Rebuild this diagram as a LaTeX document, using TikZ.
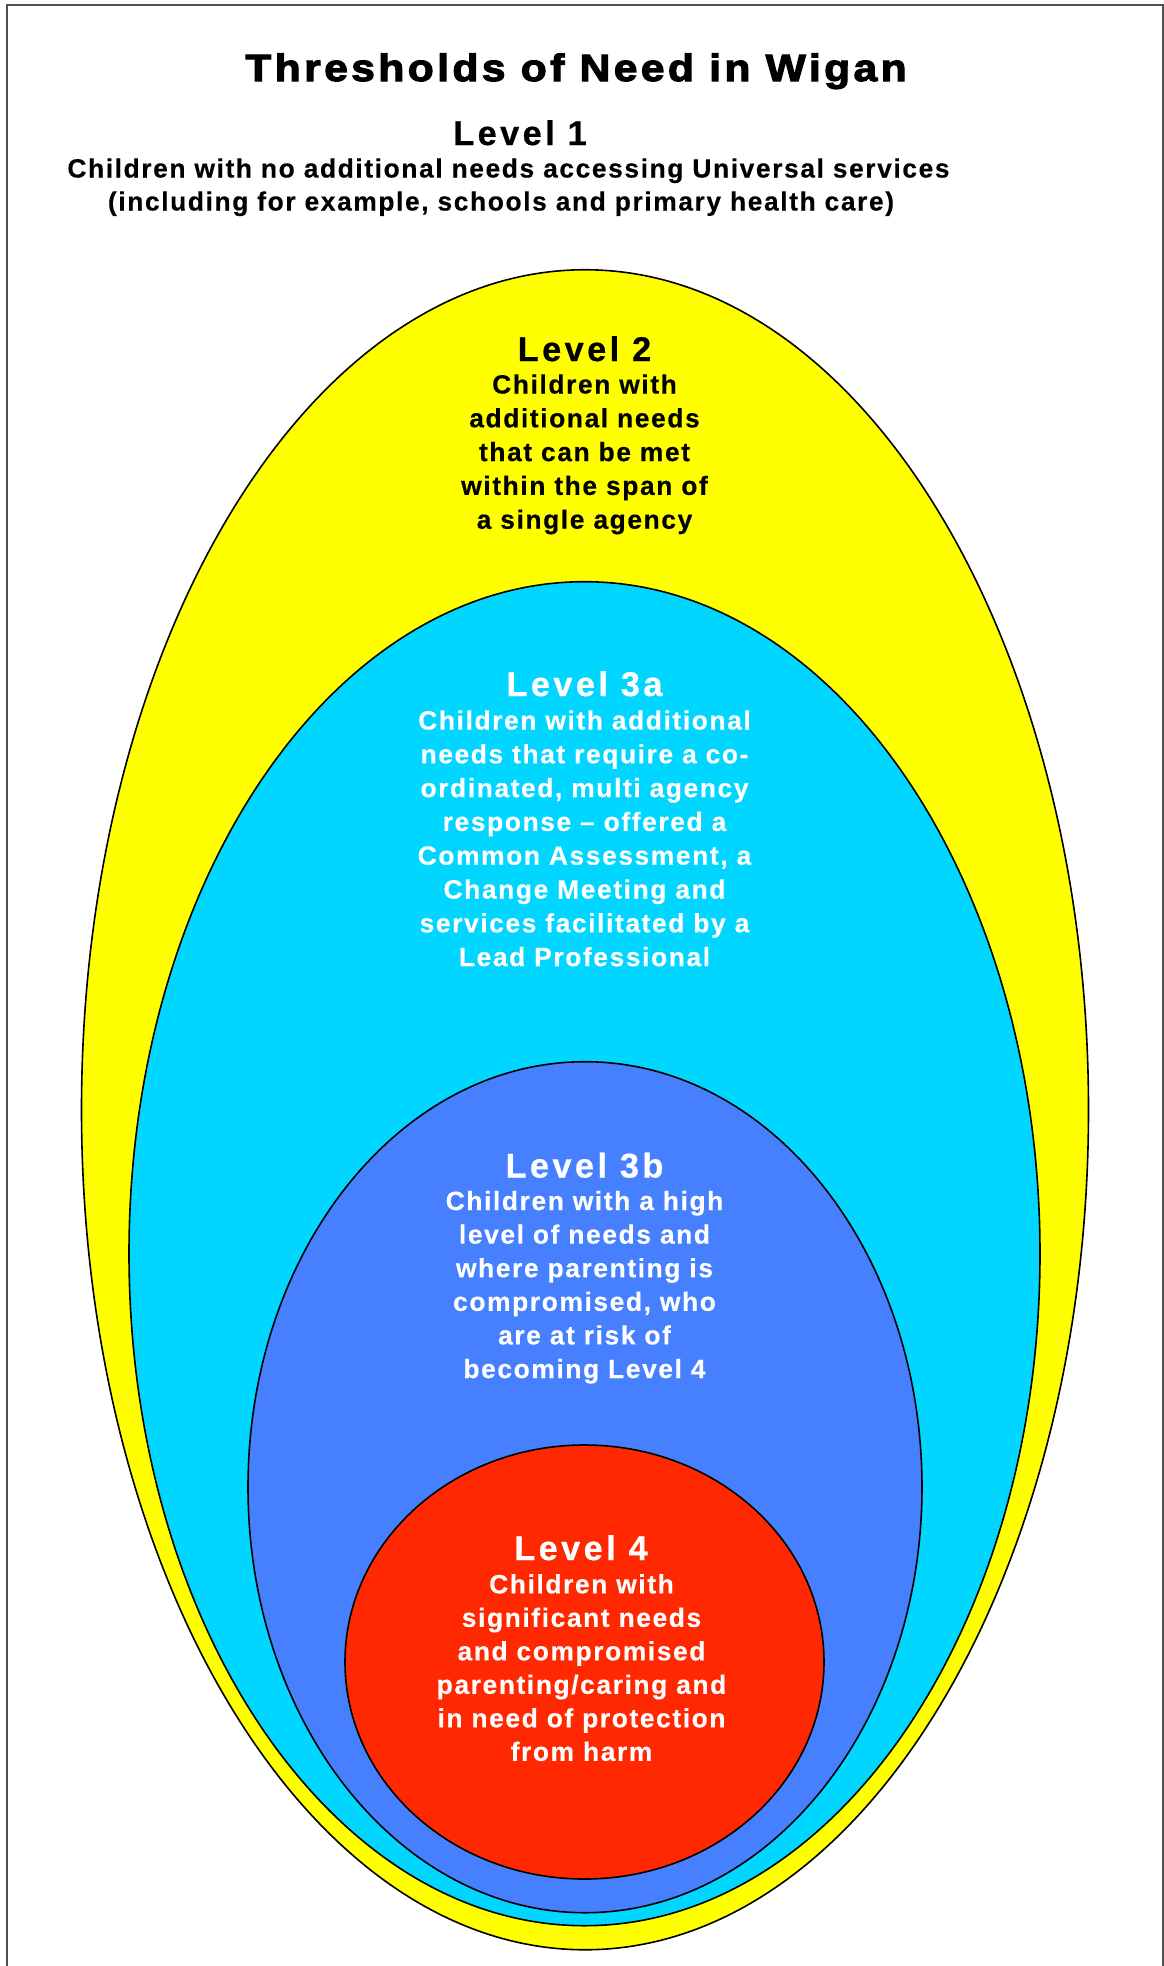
\documentclass[tikz,border=0pt]{standalone}
\usepackage{fontspec}
\setmainfont{Liberation Sans}
\newfontfamily\titlefont{Liberation Sans}[LetterSpace=9,BoldFeatures={FakeBold=3,FakeStretch=1.12}]
\newfontfamily\headfont{Liberation Sans}[LetterSpace=10,BoldFeatures={FakeBold=0.6}]
\newfontfamily\bodyfont{Liberation Sans}[LetterSpace=6,BoldFeatures={FakeBold=0.3}]

\definecolor{framegray}{RGB}{80,80,80}
\definecolor{lvlyellow}{RGB}{255,255,0}
\definecolor{lvlcyan}{RGB}{0,214,255}
\definecolor{lvlblue}{RGB}{70,128,255}
\definecolor{lvlred}{RGB}{255,40,0}

\tikzset{
  ring/.style={draw=black, line width=1.6pt},
  titletext/.style={anchor=base, inner sep=0pt, font=\titlefont\bfseries\fontsize{38}{44}\selectfont},
  headtext/.style={anchor=base, inner sep=0pt, font=\headfont\bfseries\fontsize{34.3}{40}\selectfont},
  bodytext/.style={anchor=base, inner sep=0pt, font=\bodyfont\bfseries\fontsize{26.4}{31}\selectfont},
}

\begin{document}
\begin{tikzpicture}[x=1pt, y=-1pt]
  \useasboundingbox (0,0) rectangle (1164,1966);
  \fill[white] (0,0) rectangle (1164,1966);

  % page frame, open at the bottom
  \draw[framegray, line width=2pt] (7,1975) -- (7,4.5) -- (1162.5,4.5) -- (1162.5,1975);

  % nested levels
  \draw[ring, fill=lvlyellow] (585,1109.75) ellipse [x radius=503.5pt, y radius=840pt];
  \draw[ring, fill=lvlcyan]   (584.5,1253.7) ellipse [x radius=455.5pt, y radius=672pt];
  \draw[ring, fill=lvlblue]   (585,1487.2) ellipse [x radius=337pt, y radius=425.5pt];
  \draw[ring, fill=lvlred]    (584.5,1662) ellipse [x radius=239.5pt, y radius=217pt];

  % heading and level 1
  \node[titletext] (title) at (576,81) {Thresholds of Need in Wigan};
  \node[headtext] (lvone) at (520,145) {Level 1};
  \node[bodytext] (lvone-1) at (508.5,177.5) {Children with no additional needs accessing Universal services};
  \node[bodytext] (lvone-2) at (501,210.5) {(including for example, schools and primary health care)};

  % level 2
  \node[headtext] (lvtwo) at (584.5,361) {Level 2};
  \foreach \t [count=\i] in {Children with, additional needs, that can be met, within the span of, a single agency}
    \node[bodytext] (lvtwo-\i) at (584.5,{393.5+(\i-1)*33.8}) {\t};

  % level 3a
  \node[headtext, text=white] (lvthreea) at (584.5,696) {Level 3a};
  \foreach \t [count=\i] in {Children with additional, needs that require a co-, {ordinated, multi agency}, response – offered a, {Common Assessment, a}, Change Meeting and, services facilitated by a, Lead Professional}
    \node[bodytext, text=white] (lvthreea-\i) at (584.5,{729.5+(\i-1)*33.8}) {\t};

  % level 3b
  \node[headtext, text=white] (lvthreeb) at (584.5,1177.5) {Level 3b};
  \foreach \t [count=\i] in {Children with a high, level of needs and, where parenting is, {compromised, who}, are at risk of, becoming Level 4}
    \node[bodytext, text=white] (lvthreeb-\i) at (584.5,{1210+(\i-1)*33.6}) {\t};

  % level 4
  \node[headtext, text=white] (lvfour) at (581,1560) {Level 4};
  \foreach \t [count=\i] in {Children with, significant needs, and compromised, parenting/caring and, in need of protection, from harm}
    \node[bodytext, text=white] (lvfour-\i) at (581.5,{1593.3+(\i-1)*33.5}) {\t};
\end{tikzpicture}
\end{document}
